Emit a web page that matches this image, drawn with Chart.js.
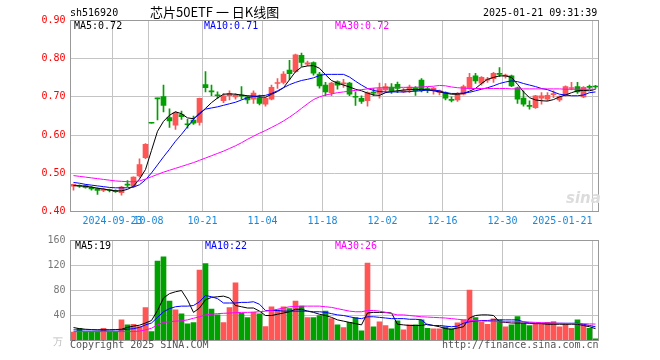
<!DOCTYPE html>
<html><head><meta charset="utf-8">
<script src="https://cdn.jsdelivr.net/npm/chart.js@4.4.1/dist/chart.umd.min.js"></script>
<style>
body{margin:0;background:#fff;}
#root{position:relative;width:660px;height:360px;overflow:hidden;background:#fff;font-family:'DejaVu Sans Mono',monospace;font-size:10px;}
.t{position:absolute;white-space:pre;line-height:12px;}
canvas{position:absolute;left:0;}
</style></head><body>
<div id="root">
<canvas id="kc" width="660" height="232" style="top:0"></canvas>
<canvas id="vc" width="660" height="128" style="top:232px"></canvas>
<div class="t" style="left:70px;top:7px;color:#000">sh516920</div>
<div class="t" style="left:150px;top:4px;font-family:'Noto Sans CJK SC';font-size:13px;line-height:16px;color:#000">芯片50ETF 一 日K线图</div>
<div class="t" style="left:483px;top:7px;color:#000">2025-01-21 09:31:39</div>
<div class="t" id="l1" style="left:74px;top:20px;color:#000"></div>
<div class="t" id="l2" style="left:204px;top:20px;color:#0000ff"></div>
<div class="t" id="l3" style="left:335px;top:20px;color:#ff00ff"></div>
<div class="t" id="v1" style="left:75px;top:240px;color:#000"></div>
<div class="t" id="v2" style="left:205px;top:240px;color:#0000ff"></div>
<div class="t" id="v3" style="left:335px;top:240px;color:#ff00ff"></div>
<div class="t" style="left:53px;top:336px;color:#bbb">万</div>
<div class="t" style="left:70px;top:339px;color:#555">Copyright 2025 SINA.COM</div>
<div class="t" style="left:442px;top:339px;color:#555">http://finance.sina.com.cn</div>
<div class="t" style="left:566px;top:190px;font-family:'DejaVu Sans';font-style:italic;font-weight:bold;font-size:15px;line-height:16px;color:#dcdcdc">sina</div>
</div>
<script>
const dates = [
'2024-09-10','2024-09-11','2024-09-12','2024-09-13','2024-09-18','2024-09-19','2024-09-20','2024-09-23','2024-09-24','2024-09-25','2024-09-26','2024-09-27','2024-09-30',
'2024-10-08','2024-10-09','2024-10-10','2024-10-11','2024-10-14','2024-10-15','2024-10-16','2024-10-17','2024-10-18','2024-10-21','2024-10-22','2024-10-23','2024-10-24','2024-10-25','2024-10-28','2024-10-29','2024-10-30','2024-10-31',
'2024-11-01','2024-11-04','2024-11-05','2024-11-06','2024-11-07','2024-11-08','2024-11-11','2024-11-12','2024-11-13','2024-11-14','2024-11-15','2024-11-18','2024-11-19','2024-11-20','2024-11-21','2024-11-22','2024-11-25','2024-11-26','2024-11-27','2024-11-28','2024-11-29',
'2024-12-02','2024-12-03','2024-12-04','2024-12-05','2024-12-06','2024-12-09','2024-12-10','2024-12-11','2024-12-12','2024-12-13','2024-12-16','2024-12-17','2024-12-18','2024-12-19','2024-12-20','2024-12-23','2024-12-24','2024-12-25','2024-12-26','2024-12-27','2024-12-30','2024-12-31',
'2025-01-02','2025-01-03','2025-01-06','2025-01-07','2025-01-08','2025-01-09','2025-01-10','2025-01-13','2025-01-14','2025-01-15','2025-01-16','2025-01-17','2025-01-20','2025-01-21'];

const openP = [0.466,0.468,0.468,0.463,0.460,0.455,0.456,0.455,0.449,0.471,
0.466,0.493,0.541,0.631,0.696,0.701,0.646,0.626,0.654,0.629,
0.639,0.633,0.732,0.715,0.705,0.690,0.703,0.700,0.703,0.700,
0.694,0.698,0.681,0.694,0.735,0.738,0.770,0.766,0.809,0.786,
0.790,0.760,0.731,0.711,0.740,0.734,0.736,0.701,0.696,0.690,
0.712,0.709,0.718,0.726,0.733,0.713,0.718,0.724,0.744,0.721,
0.716,0.712,0.711,0.693,0.692,0.707,0.722,0.755,0.736,0.744,
0.748,0.761,0.754,0.755,0.724,0.697,0.677,0.672,0.697,0.694,
0.706,0.692,0.704,0.722,0.727,0.700,0.727,0.727];
const closeP = [0.471,0.466,0.463,0.459,0.455,0.459,0.455,0.452,0.464,0.469,
0.490,0.523,0.576,0.631,0.695,0.678,0.637,0.659,0.648,0.627,
0.631,0.696,0.724,0.713,0.703,0.703,0.709,0.704,0.702,0.692,
0.710,0.683,0.696,0.725,0.737,0.760,0.761,0.810,0.790,0.789,
0.762,0.729,0.713,0.736,0.731,0.736,0.707,0.699,0.688,0.711,
0.710,0.722,0.727,0.716,0.722,0.715,0.726,0.716,0.716,0.719,
0.723,0.716,0.697,0.691,0.707,0.727,0.751,0.742,0.751,0.746,
0.762,0.759,0.757,0.729,0.694,0.681,0.675,0.703,0.703,0.704,
0.708,0.701,0.727,0.724,0.713,0.725,0.725,0.726];
const highP = [0.472,0.470,0.470,0.465,0.462,0.461,0.459,0.457,0.466,0.481,
0.491,0.538,0.578,0.631,0.697,0.731,0.669,0.661,0.663,0.641,
0.650,0.697,0.766,0.731,0.713,0.709,0.716,0.709,0.727,0.703,
0.716,0.705,0.698,0.731,0.748,0.766,0.796,0.812,0.815,0.794,
0.792,0.764,0.738,0.738,0.742,0.746,0.738,0.713,0.703,0.713,
0.722,0.736,0.735,0.735,0.739,0.722,0.731,0.727,0.748,0.725,
0.725,0.718,0.713,0.700,0.711,0.731,0.762,0.762,0.753,0.751,
0.764,0.777,0.760,0.757,0.726,0.716,0.690,0.704,0.711,0.711,
0.716,0.703,0.729,0.738,0.738,0.727,0.731,0.730];
const lowP = [0.456,0.463,0.461,0.456,0.445,0.452,0.451,0.450,0.443,0.465,
0.463,0.490,0.538,0.631,0.640,0.661,0.620,0.615,0.641,0.618,
0.628,0.626,0.713,0.703,0.696,0.685,0.692,0.694,0.694,0.683,
0.683,0.679,0.676,0.692,0.722,0.734,0.745,0.764,0.780,0.782,
0.757,0.723,0.703,0.703,0.720,0.725,0.703,0.678,0.683,0.676,
0.703,0.697,0.711,0.709,0.711,0.711,0.711,0.704,0.713,0.711,
0.707,0.705,0.692,0.687,0.688,0.705,0.720,0.735,0.731,0.738,
0.738,0.753,0.749,0.727,0.683,0.676,0.668,0.670,0.681,0.690,
0.698,0.688,0.702,0.718,0.709,0.698,0.720,0.722];

const ma5 = [0.468,0.467,0.466,0.464,0.461,0.459,0.456,0.454,0.454,0.458,
0.466,0.485,0.510,0.560,0.610,0.636,0.652,0.661,0.656,0.645,
0.643,0.655,0.670,0.685,0.697,0.707,0.708,0.707,0.705,0.703,
0.702,0.700,0.699,0.707,0.714,0.724,0.745,0.766,0.778,0.781,
0.782,0.775,0.758,0.743,0.736,0.731,0.726,0.720,0.716,0.710,
0.705,0.704,0.711,0.714,0.716,0.718,0.719,0.719,0.720,0.718,
0.716,0.713,0.710,0.707,0.707,0.709,0.715,0.722,0.735,0.746,
0.751,0.755,0.755,0.751,0.733,0.713,0.698,0.692,0.690,0.689,
0.693,0.700,0.705,0.711,0.716,0.717,0.716,0.720];
const ma10 = [0.476,0.474,0.471,0.469,0.467,0.465,0.463,0.462,0.462,0.462,
0.464,0.470,0.483,0.501,0.522,0.543,0.563,0.584,0.602,0.622,
0.641,0.658,0.668,0.671,0.674,0.678,0.682,0.686,0.692,0.698,
0.701,0.703,0.704,0.709,0.716,0.724,0.732,0.738,0.743,0.746,
0.750,0.756,0.759,0.759,0.759,0.759,0.752,0.741,0.731,0.722,
0.717,0.714,0.713,0.713,0.713,0.713,0.714,0.715,0.716,0.718,
0.718,0.716,0.711,0.709,0.709,0.710,0.712,0.716,0.720,0.724,
0.729,0.735,0.739,0.742,0.740,0.735,0.731,0.727,0.722,0.719,
0.713,0.707,0.705,0.703,0.703,0.705,0.711,0.713];
const ma30 = [0.494,0.492,0.490,0.488,0.486,0.484,0.482,0.480,0.479,0.478,
0.478,0.480,0.485,0.491,0.497,0.503,0.508,0.513,0.518,0.523,
0.528,0.534,0.540,0.546,0.552,0.558,0.565,0.572,0.580,0.589,
0.597,0.605,0.612,0.620,0.628,0.637,0.647,0.658,0.670,0.682,
0.693,0.700,0.705,0.708,0.711,0.713,0.715,0.717,0.719,0.721,
0.723,0.724,0.724,0.724,0.725,0.725,0.725,0.725,0.726,0.727,
0.728,0.730,0.729,0.726,0.724,0.723,0.722,0.722,0.722,0.722,
0.722,0.722,0.722,0.721,0.721,0.721,0.721,0.721,0.721,0.721,
0.721,0.721,0.720,0.720,0.720,0.720,0.720,0.720];

const volume = [13.3,19.6,14.3,14.3,14.3,19.6,14.3,14.3,33,25,
26,22.3,52.6,14.3,127,134,63,49,42.5,26.6,
28.7,112.6,123,50.4,40.9,28.7,52.6,92.4,43.5,36.6,
45,42.5,22.3,54,49,54,51,63,55,36.6,
36.6,40,47,35,25,20.7,29.2,36.6,15.4,124,
21.8,29.7,23.9,18.6,31.3,17,25,25,32.9,19.6,
18.6,18.6,21.8,18.6,28.1,32.9,80.7,36.6,29.2,26,
34.5,32.9,21.8,25,38.2,27.6,23.9,27.6,27.6,29.2,
30.3,21.8,26,19.6,32.9,26,19.6,2.7];
const volMa5 = [20.7,19,18,17.5,17,17,17,17.5,18,21,
23,24.5,28,32,48,68,75,78,80,65,
45,52,65,69,70,71,68,56,54,52,
52,47,40,40,42,44,46,50,50,47,
45,42,40,37,33,31,29,27,25,44,
45,45,45,44,26,25,24,24,24,26,
24,22,19,18,20,22,36,40,41,41,
40,30,29,28,28,28,27.6,27,27,26,
26,26,26,26,26,24,22,19];
const volMa10 = [17,17,17,17,17,17,17,17,17,18,
19,21,25,28,37,46,51,54,55,55,
56,62,72,70,67,60,60,60,61,61,
62,58,48,48,48,47,47,47,47,47,
46,46,45,43,41,40,38,36,35,38,
38,37,36,35,35,35,34,34,33,25,
24,24,23,22,23,27.6,30,31,32,32,
33,33,33,33,33,30,28,27.6,27.6,27.6,
27.6,27.6,27.6,27.6,27.6,26,24,22];
const volMa30 = [14.3,14.3,14.3,14.3,14.3,14.3,14.3,14.3,14.3,14.3,
14.3,15,17,19.6,25,29,30,31,31.5,33,
35.6,38,41,42,43,43.5,44,44.5,45,45,
45.5,46,47,48,50,52,54,54.5,55,55,
55,55,54,53,51,49,47,46,46,48,
48,47,45,43,41,41,40,39,38,37.5,
37,36.5,36,35,34,33,32.5,31.5,31,31,
30.5,30,30,30,30,30,29.5,29,28.5,28,
27.6,27.5,27.3,27,27,26.8,26.5,26.3];

const tickDates = ['2024-09-23','2024-10-08','2024-10-21','2024-11-04','2024-11-18','2024-12-02','2024-12-16','2024-12-30','2025-01-21'];
const tickLabels = ['2024-09-23','10-08','10-21','11-04','11-18','12-02','12-16','12-30','2025-01-21'];
const priceTicks = [0.40,0.50,0.60,0.70,0.80,0.90];
const volTicks = [0,40,80,120,160];

const UP = '#ff5555', DOWN = '#00a000';
const candleColors = dates.map((d,i) => closeP[i] > openP[i] ? UP : DOWN);
const FONT = {family:"'DejaVu Sans Mono', monospace", size:10};

document.getElementById('l1').textContent = 'MA5:' + ma5[ma5.length-1].toFixed(2);
document.getElementById('l2').textContent = 'MA10:' + ma10[ma10.length-1].toFixed(2);
document.getElementById('l3').textContent = 'MA30:' + ma30[ma30.length-1].toFixed(2);
document.getElementById('v1').textContent = 'MA5:' + Math.round(volMa5[volMa5.length-1]);
document.getElementById('v2').textContent = 'MA10:' + Math.round(volMa10[volMa10.length-1]);
document.getElementById('v3').textContent = 'MA30:' + Math.round(volMa30[volMa30.length-1]);

// grid from the chart scales' own ticks, drawn beneath the datasets, then the frame on top
function paintGrid(chart){
  const {ctx, chartArea:a, scales} = chart;
  const xs = scales.x, ys = scales.y;
  ctx.save();
  ctx.setLineDash([]);
  ctx.strokeStyle = '#c4c4c4';
  ctx.lineWidth = 1;
  xs.ticks.forEach(t => {
    const px = Math.floor(xs.getPixelForValue(t.value)) + 0.5;
    ctx.beginPath(); ctx.moveTo(px, a.top); ctx.lineTo(px, a.bottom); ctx.stroke();
  });
  ys.ticks.forEach(t => {
    if (Math.abs(t.value - ys.min) < 1e-9 || Math.abs(t.value - ys.max) < 1e-9) return;
    const py = Math.floor(ys.getPixelForValue(t.value)) + 0.5;
    ctx.beginPath(); ctx.moveTo(a.left, py); ctx.lineTo(a.right, py); ctx.stroke();
  });
  ctx.restore();
}
const frame = {
  id:'frame',
  beforeDatasetsDraw(chart){ paintGrid(chart); },
  afterDatasetsDraw(chart){
    const {ctx, chartArea:a} = chart;
    ctx.save();
    ctx.setLineDash([]);
    ctx.strokeStyle = '#999';
    ctx.lineWidth = 1;
    ctx.strokeRect(a.left, a.top, a.right - a.left, a.bottom - a.top);
    ctx.restore();
  }
};
const zeroPad = (h) => (s) => { if (s.isHorizontal()) s.height = h; else s.width = h; s.paddingLeft = 0; s.paddingRight = 0; s.paddingTop = 0; s.paddingBottom = 0; };
const pts = (arr) => arr.map((v,i) => ({x:i, y:v}));
const lineDs = (arr, color, order) => ({type:'line', data: pts(arr), borderColor: color, backgroundColor:'rgba(0,0,0,0)', fill:false, borderWidth:1, pointRadius:0, tension:0, order});

function xScale(showLabels, h){
  return {
    type:'linear', min:-0.5, max:dates.length-0.5, offset:false,
    afterBuildTicks: s => { s.ticks = tickDates.map(d => ({value: dates.indexOf(d) - 0.5})); },
    afterFit: zeroPad(h),
    ticks:{display:showLabels, autoSkip:false, maxRotation:0, minRotation:0, padding:4, color:'#1a88d8', font:FONT,
      callback:(v,i) => i === tickLabels.length-1 ? tickLabels[i] + '          ' : tickLabels[i]},
    grid:{display:false, offset:false, drawTicks:false},
    border:{display:false}
  };
}
function yScale(min, max, ticks, color, fmt){
  return {
    type:'linear', min, max,
    afterBuildTicks: s => { s.ticks = ticks.map(v => ({value:v})); },
    afterFit: zeroPad(70),
    ticks:{color, padding:5, font:FONT, callback: fmt},
    grid:{display:false, drawTicks:false},
    border:{display:false}
  };
}

new Chart(document.getElementById('kc'), {
  type:'bar',
  data:{ datasets:[
    lineDs(ma5,'#000000',0.3),
    lineDs(ma10,'#0000ff',0.2),
    lineDs(ma30,'#ff00ff',0.1),
    {type:'bar', data: dates.map((d,i)=>({x:i, y:[openP[i], closeP[i]]})), backgroundColor:candleColors, barThickness:5, minBarLength:1, grouped:false, borderWidth:0, order:1},
    {type:'bar', data: dates.map((d,i)=>({x:i, y:[lowP[i], highP[i]]})), backgroundColor:candleColors, barThickness:1, minBarLength:1, grouped:false, borderWidth:0, order:2}
  ]},
  options:{
    responsive:false, animation:false, events:[], devicePixelRatio:1,
    layout:{autoPadding:false, padding:{left:0.5, top:20.5, right:61.5, bottom:0}},
    plugins:{legend:{display:false}, tooltip:{enabled:false}, title:{display:false}},
    scales:{
      x: xScale(true, 20.5),
      y: yScale(0.4, 0.9, priceTicks, '#ff0000', v => Number(v).toFixed(2))
    }
  },
  plugins:[frame]
});

const volColors = dates.map((d,i) => closeP[i] > openP[i] ? UP : DOWN);
new Chart(document.getElementById('vc'), {
  type:'bar',
  data:{ datasets:[
    lineDs(volMa5,'#000000',0.3),
    lineDs(volMa10,'#0000ff',0.2),
    lineDs(volMa30,'#ff00ff',0.1),
    {type:'bar', data: volume.map((v,i)=>({x:i, y:v})), backgroundColor:volColors, barThickness:5, grouped:false, borderWidth:0, order:1}
  ]},
  options:{
    responsive:false, animation:false, events:[], devicePixelRatio:1,
    layout:{autoPadding:false, padding:{left:0.5, top:8.5, right:61.5, bottom:0}},
    plugins:{legend:{display:false}, tooltip:{enabled:false}, title:{display:false}},
    scales:{
      x: xScale(false, 19.5),
      y: yScale(0, 160, volTicks, '#777', v => v === 0 ? '' : String(v))
    }
  },
  plugins:[frame]
});
</script>
</body></html>
